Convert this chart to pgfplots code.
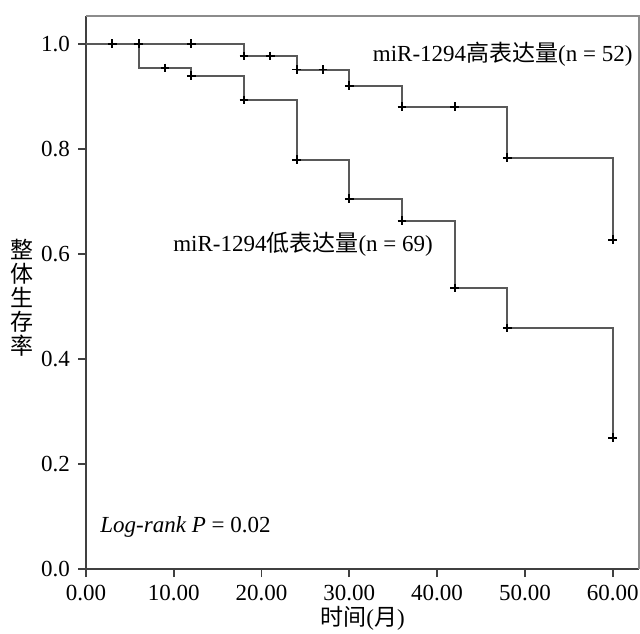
\documentclass[border=0pt]{standalone}
\usepackage{fontspec}
\setmainfont{Liberation Serif}
\newfontfamily\cjk{Noto Sans CJK SC}
\usepackage{pgfplots}
\pgfplotsset{compat=1.18}

% Kaplan-Meier steps: value holds to the right until the next time point
\pgfplotstableread{
t s
0 1.000
18 0.977
24 0.951
30 0.920
36 0.880
48 0.783
60 0.627
}\highcurve
\pgfplotstableread{
t s
3 1.000
6 1.000
12 1.000
18 0.977
21 0.977
24 0.951
27 0.951
30 0.920
36 0.880
42 0.880
48 0.783
60 0.627
}\highcens
\pgfplotstableread{
t s
0 1.000
6 0.954
12 0.939
18 0.893
24 0.779
30 0.705
36 0.663
42 0.535
48 0.459
60 0.250
}\lowcurve
\pgfplotstableread{
t s
9 0.954
12 0.939
18 0.893
24 0.779
30 0.705
36 0.663
42 0.535
48 0.459
60 0.250
}\lowcens

\begin{document}
\fontsize{11.5}{13.5}\selectfont
\begin{tikzpicture}
\begin{axis}[
  width=276.5pt, height=276.5pt, scale only axis,
  xmin=0, xmax=63.0, ymin=0, ymax=1.053,
  axis x line*=bottom, axis y line*=left,
  axis line style={black!75, line width=0.9pt, -},
  xtick={0,10,...,60}, ytick={0,0.2,...,1.0},
  tick align=outside, major tick length=4pt,
  tick style={black!75, line width=0.9pt},
  xticklabel style={inner xsep=0pt, /pgf/number format/.cd, fixed, fixed zerofill, precision=2, assume math mode=true},
  yticklabel style={/pgf/number format/.cd, fixed, fixed zerofill, precision=1, assume math mode=true},
  ticklabel style={font=\fontsize{11.5}{13.5}\selectfont},
  xlabel={{\cjk 时间}({\cjk 月})},
  xlabel style={font=\fontsize{11.5}{13.5}\selectfont, inner ysep=0pt, yshift=1pt},
  clip=false,
]
\draw[black!45, line width=0.8pt] (rel axis cs:0,1) -- (rel axis cs:1,1) -- (rel axis cs:1,0);
\addplot[const plot, black!65, line width=1pt] table[x=t, y=s] {\highcurve};
\addplot[const plot, black!65, line width=1pt] table[x=t, y=s] {\lowcurve};
\addplot[only marks, mark=+, mark size=2.2pt, black, line width=0.9pt] table[x=t, y=s] {\highcens};
\addplot[only marks, mark=+, mark size=2.2pt, black, line width=0.9pt] table[x=t, y=s] {\lowcens};
\node[anchor=east, inner sep=0pt] at (axis cs:62.3,0.981) {miR-1294{\cjk 高表达量}(n = 52)};
\node[anchor=west, inner sep=0pt] at (axis cs:9.9,0.619) {miR-1294{\cjk 低表达量}(n = 69)};
\node[anchor=west, inner sep=0pt] at (axis cs:1.6,0.080) {\textit{Log-rank P} = 0.02};
\node[inner sep=0pt, align=center, font=\cjk\fontsize{11.5}{12}\selectfont] at ([xshift=-32pt]rel axis cs:0,0.49) {整\\体\\生\\存\\率};
\end{axis}
\path (-43pt,-32pt) rectangle (277pt,284.5pt);
\end{tikzpicture}
\end{document}
